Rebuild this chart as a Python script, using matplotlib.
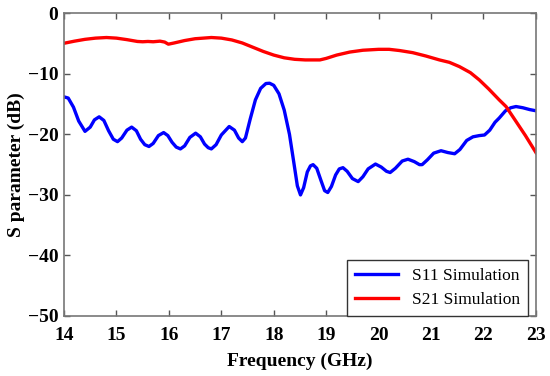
import numpy as np
import matplotlib
matplotlib.use("Agg")
import matplotlib.pyplot as plt

# S11 simulation (freq GHz, dB)
s11_freq = [14.00, 14.08, 14.18, 14.28, 14.40, 14.50, 14.58, 14.67, 14.76, 14.85,
            14.94, 15.02, 15.10, 15.20, 15.29, 15.38, 15.46, 15.54, 15.62, 15.70,
            15.80, 15.90, 15.98, 16.06, 16.14, 16.22, 16.30, 16.40, 16.51, 16.60,
            16.68, 16.75, 16.81, 16.90, 17.00, 17.15, 17.25, 17.33, 17.40, 17.46,
            17.55, 17.65, 17.75, 17.85, 17.92, 18.00, 18.10, 18.20, 18.30, 18.38,
            18.45, 18.51, 18.57, 18.64, 18.70, 18.75, 18.82, 18.90, 18.97, 19.03,
            19.10, 19.18, 19.25, 19.32, 19.40, 19.50, 19.61, 19.70, 19.80, 19.94,
            20.05, 20.15, 20.22, 20.32, 20.45, 20.56, 20.68, 20.78, 20.83, 20.93,
            21.05, 21.19, 21.32, 21.45, 21.55, 21.68, 21.80, 21.92, 22.02, 22.12,
            22.22, 22.30, 22.42, 22.52, 22.62, 22.75, 22.88, 23.00]
s11_db = [-13.8, -14.0, -15.5, -17.8, -19.5, -18.8, -17.6, -17.1, -17.7, -19.4,
          -20.8, -21.2, -20.6, -19.3, -18.8, -19.4, -20.8, -21.7, -22.0, -21.5,
          -20.2, -19.7, -20.2, -21.3, -22.1, -22.4, -21.9, -20.5, -19.8, -20.4,
          -21.6, -22.2, -22.4, -21.7, -20.1, -18.7, -19.3, -20.6, -21.2, -20.6,
          -17.5, -14.3, -12.4, -11.6, -11.55, -11.9, -13.3, -16.0, -20.0, -24.5,
          -28.5, -30.0, -28.8, -26.2, -25.2, -25.0, -25.6, -27.6, -29.3, -29.6,
          -28.6, -26.7, -25.7, -25.5, -26.1, -27.3, -27.8, -27.0, -25.7, -24.9,
          -25.4, -26.1, -26.3, -25.6, -24.4, -24.1, -24.5, -25.0, -25.0, -24.2,
          -23.1, -22.7, -23.0, -23.2, -22.5, -21.0, -20.4, -20.2, -20.1, -19.3,
          -18.0, -17.3, -16.1, -15.6, -15.4, -15.6, -15.9, -16.1]

# S21 simulation (freq GHz, dB)
s21_freq = [14.00, 14.20, 14.40, 14.60, 14.81, 15.00, 15.20, 15.40, 15.50, 15.60,
            15.70, 15.83, 15.92, 15.99, 16.10, 16.30, 16.50, 16.81, 17.00, 17.20,
            17.40, 17.60, 17.80, 18.00, 18.20, 18.40, 18.60, 18.88, 19.00, 19.20,
            19.45, 19.70, 20.00, 20.20, 20.40, 20.65, 20.90, 21.16, 21.35, 21.54,
            21.75, 21.92, 22.10, 22.30, 22.43, 22.60, 22.80, 23.00]
s21_db = [-4.95, -4.6, -4.3, -4.1, -4.0, -4.1, -4.35, -4.65, -4.7, -4.65,
          -4.7, -4.6, -4.75, -5.1, -4.9, -4.5, -4.2, -4.0, -4.1, -4.4,
          -4.9, -5.6, -6.3, -6.9, -7.35, -7.6, -7.7, -7.7, -7.45, -6.9,
          -6.4, -6.1, -5.95, -5.95, -6.15, -6.5, -7.05, -7.7, -8.1, -8.8,
          -9.8, -11.0, -12.5, -14.3, -15.4, -17.6, -20.2, -23.0]

x_ticks = [14, 15, 16, 17, 18, 19, 20, 21, 22, 23]
y_ticks = [-50, -40, -30, -20, -10, 0]

plt.rcParams["font.family"] = ["Liberation Serif", "DejaVu Serif"]

fig = plt.figure(figsize=(5.5, 3.76), dpi=100)
ax = fig.add_axes([0.1164, 0.1596, 0.858, 0.805])

ax.plot(s11_freq, s11_db, color="#0000ff", lw=2.4, label="S11 Simulation")
ax.plot(s21_freq, s21_db, color="#ff0000", lw=2.4, label="S21 Simulation")

ax.set_xlim(14, 23)
ax.set_ylim(-50, 0)
ax.set_xticks(x_ticks)
ax.set_yticks(y_ticks)
ax.tick_params(direction="in", top=True, right=True, length=4, width=1,
               color="#555555", labelsize=14)
ax.tick_params(axis="x", pad=8)
ax.tick_params(axis="y", pad=4)
for lab in ax.get_xticklabels() + ax.get_yticklabels():
    lab.set_fontweight("bold")
for sp in ax.spines.values():
    sp.set_color("#777777")
    sp.set_linewidth(1.2)

ax.set_xlabel("Frequency (GHz)", fontsize=14, fontweight="bold", labelpad=6)
ax.set_ylabel("S parameter (dB)", fontsize=14, fontweight="bold", labelpad=2)

leg = ax.legend(loc="lower right", bbox_to_anchor=(0.983, 0.0), fontsize=12.5,
                fancybox=False, edgecolor="#333333", framealpha=1,
                borderaxespad=0, handlelength=2.5, borderpad=0.45, labelspacing=0.45)
leg.get_frame().set_linewidth(1.0)

fig.savefig("out.png", dpi=100)
